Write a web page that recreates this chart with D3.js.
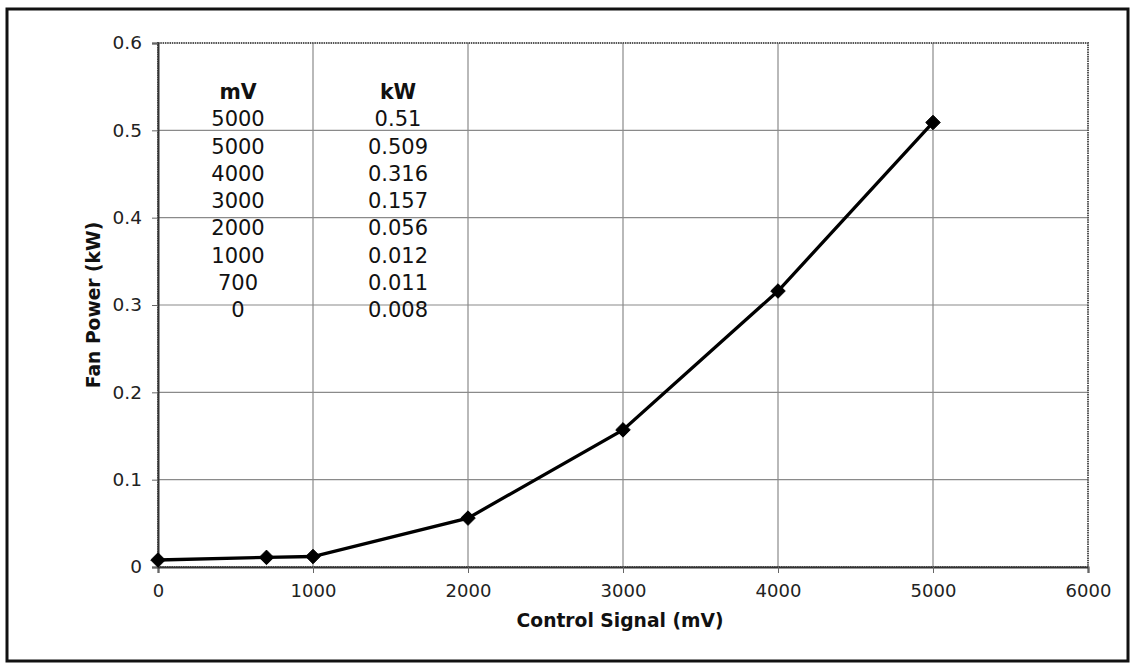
<!DOCTYPE html>
<html>
<head>
<meta charset="utf-8">
<script src="https://cdn.jsdelivr.net/npm/d3@7"></script>
<style>
  html, body { margin: 0; padding: 0; background: #fff; }
  svg { display: block; }
</style>
</head>
<body>
<svg id="chart" width="1135" height="664"></svg>
<script>
// Fan power measured against control signal
const signalMv = [0, 700, 1000, 2000, 3000, 4000, 5000];
const powerKw  = [0.008, 0.011, 0.012, 0.056, 0.157, 0.316, 0.509];

// Readings listed in the inset table (top to bottom)
const tableMv = ["5000", "5000", "4000", "3000", "2000", "1000", "700", "0"];
const tableKw = ["0.51", "0.509", "0.316", "0.157", "0.056", "0.012", "0.011", "0.008"];

const xTicks = [0, 1000, 2000, 3000, 4000, 5000, 6000];
const yTicks = [0, 0.1, 0.2, 0.3, 0.4, 0.5, 0.6];

const svg = d3.select("#chart");
const font = "Verdana, 'DejaVu Sans', sans-serif";

const plot = { left: 158, top: 43, right: 1088, bottom: 567 };

const x = d3.scaleLinear().domain([0, 6000]).range([plot.left, plot.right]);
const y = d3.scaleLinear().domain([0, 0.6]).range([plot.bottom, plot.top]);

// outer frame
svg.append("rect")
  .attr("x", 7).attr("y", 9).attr("width", 1121).attr("height", 652)
  .attr("fill", "none").attr("stroke", "#111").attr("stroke-width", 3);

// gridlines
svg.append("g").selectAll("line").data(yTicks.slice(1, -1)).join("line")
  .attr("x1", plot.left).attr("x2", plot.right)
  .attr("y1", d => y(d)).attr("y2", d => y(d))
  .attr("stroke", "#8a8a8a").attr("stroke-width", 1.2);
svg.append("g").selectAll("line").data(xTicks.slice(1, -1)).join("line")
  .attr("y1", plot.top).attr("y2", plot.bottom)
  .attr("x1", d => x(d)).attr("x2", d => x(d))
  .attr("stroke", "#8a8a8a").attr("stroke-width", 1.2);

// plot area border
svg.append("rect")
  .attr("x", plot.left).attr("y", plot.top)
  .attr("width", plot.right - plot.left).attr("height", plot.bottom - plot.top)
  .attr("fill", "none").attr("stroke", "#555").attr("stroke-width", 2)
  .attr("stroke-dasharray", "1.5,0.8");

// axes
const xAxis = d3.axisBottom(x).tickValues(xTicks).tickSize(6).tickPadding(11)
  .tickFormat(d3.format("d"));
const gx = svg.append("g").attr("transform", `translate(0,${plot.bottom})`).call(xAxis);
gx.select(".domain").attr("stroke", "#333").attr("stroke-width", 2);
gx.selectAll(".tick line").attr("stroke", "#666");
gx.selectAll("text").attr("font-family", font).attr("font-size", 18).attr("fill", "#222");

const yAxis = d3.axisLeft(y).tickValues(yTicks).tickSize(6).tickPadding(10)
  .tickFormat(d => d === 0 ? "0" : d3.format(".1f")(d));
const gy = svg.append("g").attr("transform", `translate(${plot.left},0)`).call(yAxis);
gy.select(".domain").attr("stroke", "#333").attr("stroke-width", 2);
gy.selectAll(".tick line").attr("stroke", "#666");
gy.selectAll("text").attr("font-family", font).attr("font-size", 18.5).attr("fill", "#222");

// axis titles
svg.append("text")
  .attr("x", (plot.left + plot.right) / 2 - 3).attr("y", 627)
  .attr("text-anchor", "middle")
  .attr("font-family", font).attr("font-weight", "bold").attr("font-size", 18.7)
  .attr("fill", "#111")
  .text("Control Signal (mV)");
svg.append("text")
  .attr("transform", `translate(100,${(plot.top + plot.bottom) / 2}) rotate(-90)`)
  .attr("text-anchor", "middle")
  .attr("font-family", font).attr("font-weight", "bold").attr("font-size", 18.7)
  .attr("fill", "#111")
  .text("Fan Power (kW)");

// inset table
const rowY = d3.scaleLinear().domain([0, 8]).range([99, 317]);
const table = svg.append("g").attr("font-family", font).attr("fill", "#111");
table.append("text").attr("x", 238).attr("y", rowY(0)).attr("text-anchor", "middle")
  .attr("font-weight", "bold").attr("font-size", 20.5).text("mV");
table.append("text").attr("x", 398).attr("y", rowY(0)).attr("text-anchor", "middle")
  .attr("font-weight", "bold").attr("font-size", 20.5).text("kW");
table.selectAll("text.mv").data(tableMv).join("text")
  .attr("x", 238).attr("y", (d, i) => rowY(i + 1))
  .attr("text-anchor", "middle").attr("font-size", 21).text(d => d);
table.selectAll("text.kw").data(tableKw).join("text")
  .attr("x", 398).attr("y", (d, i) => rowY(i + 1))
  .attr("text-anchor", "middle").attr("font-size", 21).text(d => d);

// series line and diamond markers
const pts = signalMv.map((v, i) => [v, powerKw[i]]);
svg.append("path")
  .datum(pts)
  .attr("d", d3.line().x(d => x(d[0])).y(d => y(d[1])))
  .attr("fill", "none").attr("stroke", "#000").attr("stroke-width", 3.3);
svg.append("g").selectAll("path").data(pts).join("path")
  .attr("transform", d => `translate(${x(d[0])},${y(d[1])})`)
  .attr("d", d3.symbol().type(d3.symbolDiamond2).size(135))
  .attr("fill", "#000").attr("stroke", "#000").attr("stroke-width", 1)
  .attr("stroke-linejoin", "round");
</script>
</body>
</html>
